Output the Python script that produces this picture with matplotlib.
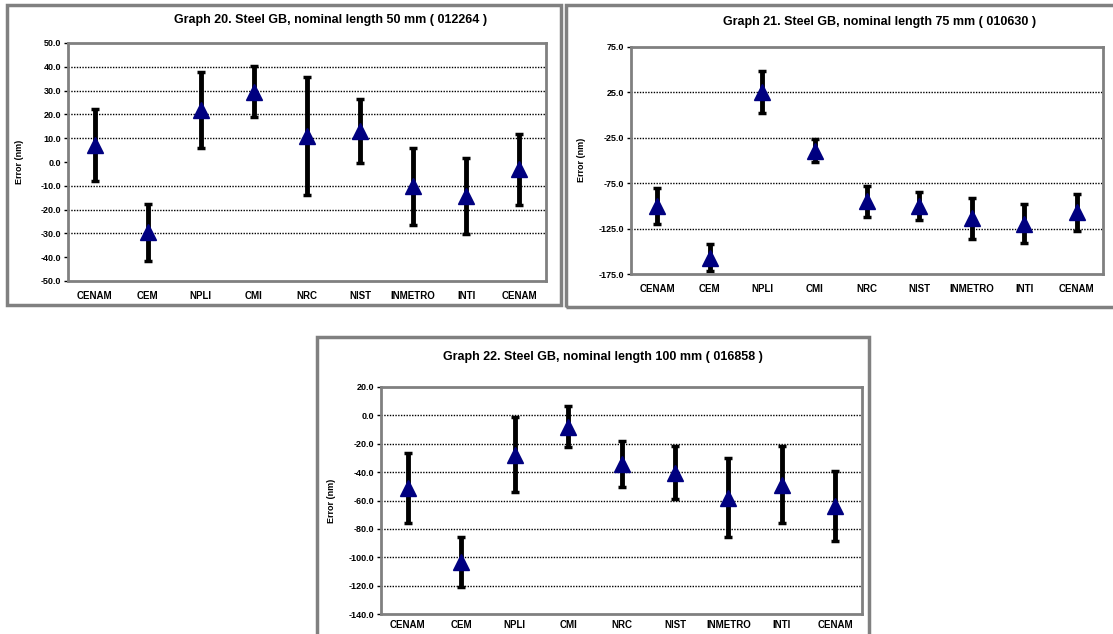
import matplotlib
matplotlib.use("Agg")
import matplotlib.pyplot as plt
from matplotlib.patches import Rectangle

plt.rcParams['font.family'] = ['Liberation Sans', 'DejaVu Sans']
plt.rcParams['font.weight'] = 'bold'

labs = ["CENAM", "CEM", "NPLI", "CMI", "NRC", "NIST", "INMETRO", "INTI", "CENAM"]

# Graph 20
g20_val = [7.2, -29.5, 21.8, 29.6, 11.0, 13.1, -10.2, -14.2, -3.1]
g20_err = [15.0, 11.9, 16.0, 10.7, 24.9, 13.5, 16.1, 16.0, 15.0]
g20_ticks = [50, 40, 30, 20, 10, 0, -10, -20, -30, -40, -50]
g20_grid = [40, 30, 20, 10, -10, -20, -30]

# Graph 21
g21_val = [-100.0, -157.0, 25.5, -39.3, -95.0, -100.0, -113.8, -119.7, -107.0]
g21_err = [20.0, 15.0, 23.5, 12.8, 17.0, 15.6, 23.0, 21.7, 20.5]
g21_ticks = [75, 25, -25, -75, -125, -175]
g21_grid = [25, -25, -75, -125]

# Graph 22
g22_val = [-51.3, -103.5, -27.6, -8.0, -34.5, -40.5, -58.0, -48.9, -63.9]
g22_err = [24.7, 17.5, 26.4, 14.6, 16.2, 18.6, 28.0, 27.0, 24.9]
g22_ticks = [20, 0, -20, -40, -60, -80, -100, -120, -140]
g22_grid = [0, -20, -40, -60, -80, -100, -120]

titles = ["Graph 20. Steel GB, nominal length 50 mm ( 012264 )",
          "Graph 21. Steel GB, nominal length 75 mm ( 010630 )",
          "Graph 22. Steel GB, nominal length 100 mm ( 016858 )"]

W, H = 1113, 634
fig = plt.figure(figsize=(W / 100, H / 100), dpi=100)
fig.patch.set_facecolor('white')


def rect(x0, y0, x1, y1):
    return [x0 / W, 1 - y1 / H, (x1 - x0) / W, (y1 - y0) / H]


def border(x0, y0, x1, y1):
    fig.patches.append(Rectangle((x0 / W, 1 - y1 / H), (x1 - x0) / W, (y1 - y0) / H,
                                 transform=fig.transFigure, fill=False,
                                 edgecolor='#808080', linewidth=2.5))


def panel(box, vals, errs, ticks, grid, title, tpos, ylabpos, xpad):
    ax = fig.add_axes(rect(*box))
    x = list(range(len(labs)))
    for g in grid:
        ax.axhline(g, color='black', linestyle=(0, (1, 1)), linewidth=1.0, zorder=1)
    ax.errorbar(x, vals, yerr=errs, fmt='none', ecolor='black', elinewidth=3.5,
                capsize=3, capthick=2.5, zorder=2)
    ax.plot(x, vals, linestyle='none', marker='^', markersize=11,
            color='#000080', zorder=3)
    ax.set_xlim(-0.5, len(labs) - 0.5)
    ax.set_ylim(min(ticks), max(ticks))
    ax.set_yticks(ticks)
    ax.set_yticklabels([f"{t:.1f}" for t in ticks], fontsize=6.5, fontweight='bold')
    ax.set_xticks(x)
    ax.set_xticklabels(labs, fontsize=7, fontweight='bold')
    ax.tick_params(axis='x', length=0, pad=xpad)
    ax.tick_params(axis='y', length=3, width=1, color='black', pad=2)
    for s in ax.spines.values():
        s.set_color('#808080')
        s.set_linewidth(2)
    fig.text(tpos[0] / W, 1 - tpos[1] / H, title, ha='center', va='center',
             fontsize=9, fontweight='bold')
    fig.text(ylabpos[0] / W, 1 - ylabpos[1] / H, "Error (nm)", ha='center', va='center',
             rotation=90, fontsize=6.5, fontweight='bold')
    return ax


border(7, 5, 561, 305)
border(566, 5, 1120, 307)
border(317, 337, 869, 645)

panel((68, 43, 546, 281), g20_val, g20_err, g20_ticks, g20_grid, titles[0], (331, 20), (20, 162), 7)
panel((631, 47, 1103, 274), g21_val, g21_err, g21_ticks, g21_grid, titles[1], (880, 22), (581, 160), 7)
panel((381, 387, 862, 614), g22_val, g22_err, g22_ticks, g22_grid, titles[2], (603, 357), (331, 501), 4)

fig.savefig("out.png", dpi=100)
